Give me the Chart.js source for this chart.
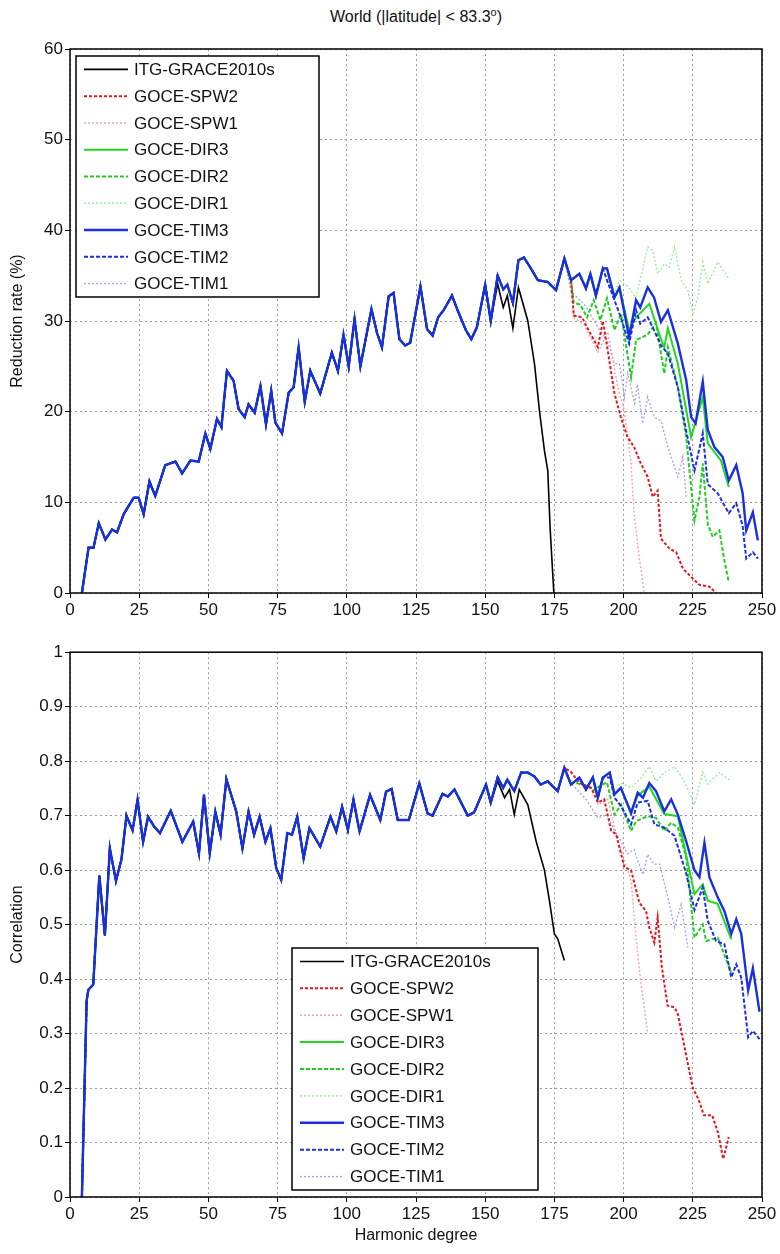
<!DOCTYPE html>
<html>
<head>
<meta charset="utf-8">
<script src="https://cdn.jsdelivr.net/npm/chart.js@4.4.0/dist/chart.umd.min.js"></script>
<style>
  body { margin: 0; background: #fff; width: 780px; height: 1254px; position: relative; overflow: hidden; font-family: "Liberation Sans", Arial, sans-serif; }
  #title { position: absolute; top: 6px; left: 70px; width: 692px; text-align: center; font-size: 16px; color: #111; }
  .box { position: absolute; left: 0; width: 780px; }
</style>
</head>
<body>
<div id="title">World (|latitude| &lt; 83.3<sup style="font-size:11px">o</sup>)</div>
<div class="box" style="top:0;height:640px"><canvas id="topChart"></canvas></div>
<div class="box" style="top:640px;height:614px"><canvas id="botChart"></canvas></div>
<script>
const seriesNames = ['ITG-GRACE2010s', 'GOCE-SPW2', 'GOCE-SPW1', 'GOCE-DIR3', 'GOCE-DIR2', 'GOCE-DIR1', 'GOCE-TIM3', 'GOCE-TIM2', 'GOCE-TIM1'];
const xTicks = [0, 25, 50, 75, 100, 125, 150, 175, 200, 225, 250];

// reduction rate, GOCE-TIM3 (the other series share it up to where they split)
const redDeg = [4.3, 6.7, 8.5, 10.4, 12.8, 15.2, 17, 19.4, 23, 24.8, 26.6, 28.7, 30.8, 34.4, 38.1, 40.5, 43.5, 46.5, 48.9, 50.7, 53.1, 54.7, 56.7, 59.1, 60.9, 63.1, 64.5, 66.7, 68.8, 70.8, 72.7, 74.2, 76.6, 79, 80.8, 82.6, 84.8, 86.8, 90.4, 94.6, 96.8, 98.8, 100.7, 102.8, 104.9, 108.9, 110.9, 112.7, 115.1, 116.9, 119, 121.1, 122.9, 126.6, 129, 131, 133, 135, 138, 140, 143, 145, 147, 150, 152, 154.5, 156.5, 158, 160, 162, 164, 166.5, 169, 172.6, 175.6, 178.6, 181, 184, 186.4, 188, 190, 192.5, 194, 196.7, 198.5, 202, 204.5, 206, 208.7, 211, 213.5, 216, 219.6, 222.6, 224.4, 226, 228.6, 230.4, 232.8, 235.8, 238, 240.7, 243, 244.3, 246.7, 248.5];
const redTim3 = [0, 5.0, 5.0, 7.7, 5.9, 7.0, 6.7, 8.7, 10.5, 10.5, 8.7, 12.3, 10.7, 14.1, 14.5, 13.2, 14.6, 14.5, 17.6, 15.9, 19.2, 18.3, 24.5, 23.4, 20.3, 19.4, 20.8, 19.9, 22.8, 18.6, 22.3, 18.8, 17.6, 22.1, 22.7, 27.1, 21.1, 24.5, 22.0, 26.5, 24.5, 28.5, 25, 30.2, 25.0, 31.3, 28.7, 27.1, 32.7, 33.1, 28, 27.3, 27.6, 33.8, 29.1, 28.4, 30.4, 31.2, 32.8, 31.2, 29, 28, 29.3, 34, 30, 35, 33.5, 34, 32, 36.7, 37, 35.8, 34.5, 34.3, 33.4, 36.9, 34.5, 35.2, 33.6, 35.2, 32.8, 35.8, 35.8, 32.6, 33.7, 28.2, 32.3, 31.5, 33.7, 32.6, 29.9, 31.2, 27.5, 23.5, 19.4, 18.7, 23.3, 18, 16.1, 15, 12.4, 14.1, 11, 6.9, 8.9, 5.8];

const redItgDeg = [154.5, 156.5, 158, 160, 162, 165.4, 167.8, 169.6, 171.4, 172.6, 173.5, 174.8];
const redItg = [34.1, 31.5, 32.8, 29.2, 33.7, 30, 25.3, 20.1, 15.7, 13.5, 6.9, 0];
const redSpw2Deg = [182, 185, 186.8, 190.7, 192.5, 194.3, 196.7, 199, 201.4, 203.8, 206.2, 208.7, 210.5, 212.3, 213.5, 216.6, 219, 221.4, 225, 227.4, 231, 233.4];
const redSpw2 = [30.6, 30.4, 29.3, 27.1, 30, 26.7, 22, 19.4, 17.2, 16.1, 14.3, 12.8, 10.6, 11.3, 6, 4.9, 4.5, 2.7, 1.6, 0.9, 0.7, 0];
const redSpw1Deg = [182, 186, 190.7, 194.3, 197.9, 200.3, 202.7, 203.8, 205.7, 207.5];
const redSpw1 = [30.4, 29.5, 26.5, 28.8, 22.7, 20.1, 14.3, 8.7, 3.8, 0];
const redDir3Deg = [202, 204.5, 209.3, 213.5, 214.7, 216, 219.6, 224.4, 228.6, 230.4, 235.2, 238];
const redDir3 = [29, 30.4, 31.9, 28, 27.1, 29.2, 25.3, 17.2, 21.6, 16.5, 14.6, 11.7];
const redDir2Deg = [182, 184.4, 186.8, 189.2, 191.6, 194, 196.7, 199.1, 202.7, 204.5, 208.7, 211.7, 214.7, 216, 219.6, 222.6, 225.6, 227.4, 228.6, 230.4, 232.2, 234.6, 236.4, 238];
const redDir2 = [32, 31.8, 30.4, 32.3, 30.1, 32.5, 29, 30.8, 23.8, 27.9, 28.5, 29.8, 24.2, 27.1, 22.7, 17.2, 8, 10.6, 14.3, 7.6, 6.2, 6.9, 3.6, 1.2];
const redDir1Deg = [196.7, 198.5, 201.5, 204.5, 208.7, 210.5, 212.3, 214.7, 216.5, 218.4, 220.8, 223.2, 225, 226.8, 228.6, 230.4, 234, 238];
const redDir1 = [33, 34.5, 33.8, 32.6, 38.2, 37.8, 35.2, 36.3, 35.9, 38.2, 34.5, 33.4, 30.8, 32.6, 36.5, 34.1, 36.5, 34.7];
const redTim2Deg = [194, 196.7, 199, 202, 204.5, 206, 208.7, 211, 213.5, 216, 219.6, 222.6, 225.6, 228.6, 230.4, 234, 238, 240.7, 243, 244.3, 246.7, 248.5];
const redTim2 = [34.5, 32.3, 30.4, 27.5, 31.2, 29.7, 30.4, 29, 27.3, 26.4, 22.7, 17.9, 13.5, 17.6, 12, 11, 8.8, 9.9, 7.4, 3.8, 4.5, 3.8];
const redTim1Deg = [181, 186.4, 191.3, 194, 196.7, 198.5, 200.3, 201.5, 204, 205, 206.9, 208.7, 211, 213.5, 216, 219.6, 221.4, 222.6];
const redTim1 = [33.3, 31.6, 29, 27.9, 25.3, 25.3, 21.6, 24.2, 20.9, 23, 18.7, 21.6, 19.4, 19, 16.1, 12.8, 15, 10.6];

// correlation, GOCE-TIM3
const corDeg = [4.3, 6, 6.6, 8.4, 10.6, 12.6, 14.4, 16.6, 18.6, 20.4, 22.6, 24.4, 26.4, 28.2, 30.4, 32.5, 36.4, 40.6, 44.5, 46.6, 48.4, 50.5, 52.5, 54.4, 56.5, 60.1, 62.3, 64.5, 66.5, 68.5, 70.6, 72.4, 74.5, 76.3, 78.5, 80.2, 82.1, 84.4, 86.5, 90.4, 94.1, 96.2, 98.3, 100.4, 102.4, 104.6, 108.4, 112.1, 114.2, 116.2, 118.4, 122.4, 126.2, 129.2, 131, 134.6, 136.5, 138.9, 141, 143.7, 146, 150.3, 152, 154.5, 156.5, 158, 160.5, 163, 165.4, 167.8, 170, 172.6, 176.2, 178.6, 181, 184, 186.4, 188.9, 190.7, 192.5, 195, 196.7, 199, 202.7, 205.1, 207, 209.3, 211.7, 214.7, 217.2, 219.6, 222.6, 225.6, 227.4, 229.2, 231, 234, 236.4, 238.9, 240.7, 242.5, 245, 246.7, 249.1];
const corTim3 = [0, 0.36, 0.38, 0.39, 0.59, 0.48, 0.64, 0.58, 0.62, 0.70, 0.673, 0.729, 0.652, 0.698, 0.68, 0.668, 0.709, 0.652, 0.689, 0.631, 0.738, 0.631, 0.707, 0.665, 0.767, 0.707, 0.64, 0.707, 0.665, 0.698, 0.652, 0.677, 0.604, 0.582, 0.668, 0.665, 0.698, 0.622, 0.677, 0.643, 0.698, 0.671, 0.716, 0.674, 0.729, 0.671, 0.738, 0.692, 0.744, 0.749, 0.692, 0.692, 0.759, 0.704, 0.70, 0.74, 0.735, 0.748, 0.727, 0.70, 0.706, 0.757, 0.724, 0.77, 0.751, 0.766, 0.745, 0.779, 0.779, 0.772, 0.757, 0.763, 0.745, 0.788, 0.757, 0.77, 0.748, 0.77, 0.733, 0.77, 0.779, 0.739, 0.751, 0.705, 0.742, 0.733, 0.76, 0.745, 0.708, 0.73, 0.702, 0.653, 0.6, 0.587, 0.65, 0.587, 0.55, 0.525, 0.483, 0.51, 0.483, 0.379, 0.42, 0.34];

const corItgDeg = [154.5, 157, 158.8, 160.5, 162.3, 165.4, 168.4, 171.4, 173.2, 175, 176.2, 178.6];
const corItg = [0.763, 0.733, 0.748, 0.702, 0.748, 0.72, 0.653, 0.6, 0.544, 0.483, 0.474, 0.434];
const corSpw2Deg = [181, 184, 188.3, 190.7, 193, 195.5, 197.3, 200.3, 202.7, 205.7, 208.1, 209.3, 211.1, 212.3, 213.8, 215.9, 218.4, 219.6, 221, 223, 225, 227, 229, 232, 234, 236, 238];
const corSpw2 = [0.78, 0.76, 0.751, 0.724, 0.73, 0.672, 0.666, 0.605, 0.6, 0.54, 0.525, 0.494, 0.467, 0.513, 0.423, 0.351, 0.348, 0.336, 0.30, 0.25, 0.2, 0.18, 0.15, 0.15, 0.12, 0.07, 0.11];
const corSpw1Deg = [190.7, 194.3, 197.9, 200.3, 202.7, 204.5, 206.3, 208.7];
const corSpw1 = [0.72, 0.73, 0.654, 0.617, 0.58, 0.476, 0.39, 0.30];
const corDir3Deg = [205.1, 209.3, 214.7, 219.6, 225.6, 228.6, 230.4, 234, 238.9];
const corDir3 = [0.737, 0.753, 0.703, 0.699, 0.556, 0.574, 0.544, 0.538, 0.473];
const corDir2Deg = [181.9, 186.8, 189.2, 191.6, 194, 196.7, 199.1, 202.7, 204.5, 208.7, 211.7, 214.7, 217.2, 219.6, 222.6, 225.6, 228.6, 229.8, 234, 238.9];
const corDir2 = [0.761, 0.755, 0.746, 0.755, 0.761, 0.702, 0.72, 0.672, 0.69, 0.699, 0.696, 0.672, 0.687, 0.678, 0.624, 0.476, 0.5, 0.47, 0.476, 0.412];
const corDir1Deg = [196.7, 199, 202.7, 206.3, 209.3, 211.7, 214.7, 218.4, 222, 225.6, 228.6, 230.4, 234.6, 238.9];
const corDir1 = [0.739, 0.76, 0.751, 0.77, 0.79, 0.763, 0.779, 0.79, 0.763, 0.72, 0.78, 0.758, 0.779, 0.763];
const corTim2Deg = [195, 196.7, 199, 202.7, 205.1, 208.7, 211.1, 214.7, 218.4, 222.6, 225.6, 228.6, 230.4, 233.4, 236.4, 238.9, 240.7, 242.5, 245, 246.7, 249.1];
const corTim2 = [0.77, 0.733, 0.718, 0.684, 0.724, 0.727, 0.684, 0.678, 0.663, 0.594, 0.527, 0.568, 0.507, 0.47, 0.464, 0.403, 0.427, 0.403, 0.293, 0.305, 0.29];
const corTim1Deg = [181, 186.4, 190.8, 194, 196.7, 199, 201.4, 203.8, 205.1, 207, 208.7, 211, 213, 216, 218.4, 220.8, 223.2];
const corTim1 = [0.76, 0.73, 0.696, 0.702, 0.672, 0.654, 0.63, 0.638, 0.617, 0.592, 0.629, 0.611, 0.611, 0.55, 0.495, 0.537, 0.458];

// shared curve up to the split, then the series' own tail
function join(baseDeg, baseVal, tailDeg, tailVal) {
  const pts = [];
  if (tailDeg) {
    baseDeg.forEach((d, i) => { if (d < tailDeg[0]) pts.push({ x: d, y: baseVal[i] }); });
    tailDeg.forEach((d, i) => pts.push({ x: d, y: tailVal[i] }));
  } else {
    baseDeg.forEach((d, i) => pts.push({ x: d, y: baseVal[i] }));
  }
  return pts;
}

const styles = [
  { c: '#000000', w: 1.6, dash: [], order: 1 },
  { c: '#e8141e', w: 2, dash: [3, 2], order: 5 },
  { c: '#f2a3ac', w: 1.4, dash: [2, 2], order: 8 },
  { c: '#1fd81f', w: 2, dash: [], order: 3 },
  { c: '#22cc22', w: 2, dash: [4, 2], order: 6 },
  { c: '#9eea9e', w: 1.4, dash: [2, 2], order: 9 },
  { c: '#1a2fe0', w: 2.4, dash: [], order: 0 },
  { c: '#1a2fe0', w: 2, dash: [4, 2], order: 2 },
  { c: '#a9a6e8', w: 1.4, dash: [2, 2], order: 7 }
];

function buildSets(base) {
  return base.map((pts, i) => ({
    label: seriesNames[i], data: pts, borderColor: styles[i].c, borderWidth: styles[i].w,
    borderDash: styles[i].dash, order: styles[i].order, pointRadius: 0, tension: 0, fill: false
  }));
}

const topSets = buildSets([
  join(redDeg, redTim3, redItgDeg, redItg),
  join(redDeg, redTim3, redSpw2Deg, redSpw2),
  join(redDeg, redTim3, redSpw1Deg, redSpw1),
  join(redDeg, redTim3, redDir3Deg, redDir3),
  join(redDeg, redTim3, redDir2Deg, redDir2),
  join(redDeg, redTim3, redDir1Deg, redDir1),
  join(redDeg, redTim3),
  join(redDeg, redTim3, redTim2Deg, redTim2),
  join(redDeg, redTim3, redTim1Deg, redTim1)
]);
const botSets = buildSets([
  join(corDeg, corTim3, corItgDeg, corItg),
  join(corDeg, corTim3, corSpw2Deg, corSpw2),
  join(corDeg, corTim3, corSpw1Deg, corSpw1),
  join(corDeg, corTim3, corDir3Deg, corDir3),
  join(corDeg, corTim3, corDir2Deg, corDir2),
  join(corDeg, corTim3, corDir1Deg, corDir1),
  join(corDeg, corTim3),
  join(corDeg, corTim3, corTim2Deg, corTim2),
  join(corDeg, corTim3, corTim1Deg, corTim1)
]);

// boxed legend drawn inside the plot, matlab style
const boxLegend = {
  id: 'boxLegend',
  afterDraw(chart, args, opts) {
    const c = chart.ctx;
    c.save();
    c.fillStyle = '#fff';
    c.fillRect(opts.x, opts.y, opts.w, opts.h);
    c.strokeStyle = '#000'; c.lineWidth = 1.5;
    c.strokeRect(opts.x, opts.y, opts.w, opts.h);
    c.font = '17px "Liberation Sans", Arial, sans-serif';
    c.textBaseline = 'middle';
    const row = opts.h / seriesNames.length;
    styles.forEach((s, i) => {
      const yy = opts.y + row * (i + 0.5);
      c.strokeStyle = s.c; c.lineWidth = s.w; c.setLineDash(s.dash);
      c.beginPath(); c.moveTo(opts.x + 8, yy); c.lineTo(opts.x + 52, yy); c.stroke();
      c.setLineDash([]);
      c.fillStyle = '#111';
      c.fillText(seriesNames[i], opts.x + 58, yy + 1);
    });
    c.restore();
  }
};
const frame = {
  id: 'frame',
  afterDatasetsDraw(chart) {
    const a = chart.chartArea, c = chart.ctx;
    c.save(); c.strokeStyle = '#000'; c.lineWidth = 1.5;
    c.strokeRect(a.left, a.top, a.right - a.left, a.bottom - a.top);
    c.restore();
  }
};

function makeChart(id, sets, yMax, yStep, yTitle, xTitle, legendPos, pad) {
  return new Chart(document.getElementById(id), {
    type: 'line',
    data: { datasets: sets },
    plugins: [frame, boxLegend],
    options: {
      responsive: true, maintainAspectRatio: false, animation: false,
      layout: { padding: pad },
      plugins: { legend: { display: false }, tooltip: { enabled: false }, boxLegend: legendPos },
      scales: {
        x: {
          type: 'linear', min: 0, max: 250,
          afterBuildTicks: ax => { ax.ticks = xTicks.map(v => ({ value: v })); },
          afterFit: ax => { ax.height = xTitle ? 52 : 34; },
          grid: { color: '#9a9a9a', tickLength: 5, tickColor: '#000', tickBorderDash: [] },
          border: { display: false, dash: [2, 3] },
          ticks: { color: '#111', font: { size: 17, family: '"Liberation Sans", Arial' }, maxRotation: 0, padding: 2 },
          title: { display: !!xTitle, text: xTitle, color: '#111', font: { size: 16, family: '"Liberation Sans", Arial' }, padding: { top: 2 } }
        },
        y: {
          min: 0, max: yMax,
          afterFit: ax => { ax.width = 62; },
          grid: { color: '#9a9a9a', tickLength: 5, tickColor: '#000', tickBorderDash: [] },
          border: { display: false, dash: [2, 3] },
          ticks: { stepSize: yStep, color: '#111', font: { size: 17, family: '"Liberation Sans", Arial' }, padding: 2,
            callback: v => String(Math.round(v * 10) / 10) },
          title: { display: true, text: yTitle, color: '#111', font: { size: 16, family: '"Liberation Sans", Arial' }, padding: 0 }
        }
      }
    }
  });
}

makeChart('topChart', topSets, 60, 10, 'Reduction rate (%)', '', { x: 76, y: 56, w: 243, h: 241 }, { left: 8, right: 18, top: 49, bottom: 13 });
makeChart('botChart', botSets, 1, 0.1, 'Correlation', 'Harmonic degree', { x: 292, y: 308, w: 246, h: 242 }, { left: 8, right: 18, top: 11, bottom: 5 });
</script>
</body>
</html>
